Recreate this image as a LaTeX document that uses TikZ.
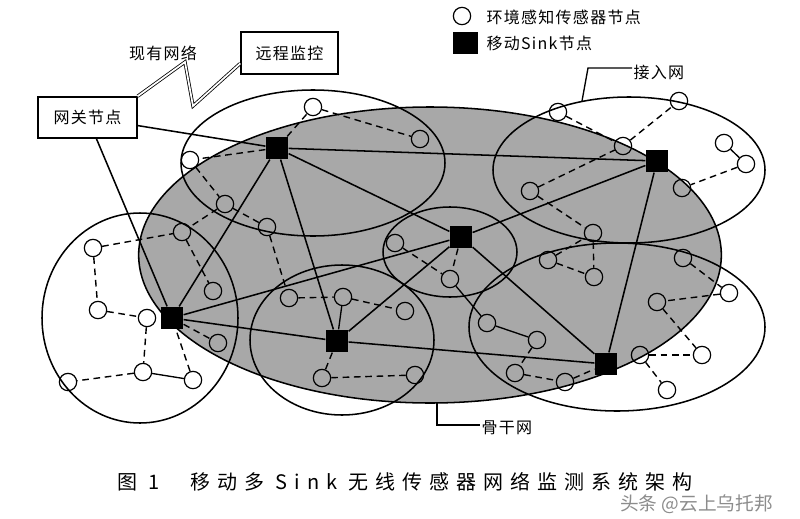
\documentclass[tikz,border=0pt]{standalone}
\usepackage{fontspec}
\newfontfamily\cjk{Noto Sans CJK SC}
\newfontfamily\cjkcap[LetterSpace=35]{Noto Sans CJK SC}
\newfontfamily\cjklab[LetterSpace=8]{Noto Sans CJK SC}
\usetikzlibrary{calc}
\begin{document}
\begin{tikzpicture}[x=0.75pt,y=-0.75pt,
  sink/.style={rectangle,fill=black,draw=none,minimum size=17pt,inner sep=0pt},
  sensor/.style={circle,draw,line width=0.9pt,minimum size=13pt,inner sep=0pt},
  bb/.style={line width=1.15pt},
  dl/.style={line width=1.05pt,dash pattern=on 5pt off 3.5pt},
  sl/.style={line width=1pt},
  cl/.style={line width=1.15pt},
  lab/.style={font=\cjklab\fontsize{12}{14}\selectfont,inner sep=1pt},
  boxlab/.style={lab,draw,line width=1.1pt},
  captionstyle/.style={font=\cjkcap\fontsize{15}{18}\selectfont,inner sep=0pt,anchor=west}
]
\useasboundingbox (0,0) rectangle (800,518);
\fill[white] (0,0) rectangle (800,518);

% backbone region
\filldraw[fill=black!34,line width=1.15pt] (430,255) ellipse [x radius=218.5pt, y radius=111pt];

% cluster ellipses
\draw[cl] (313,163) ellipse [x radius=99pt, y radius=54.75pt];
\draw[cl] (629,170) ellipse [x radius=102pt, y radius=54.75pt];
\draw[cl] (450,252) ellipse [x radius=50.25pt, y radius=33.75pt];
\draw[cl] (140,318) ellipse [x radius=73.5pt, y radius=78.75pt];
\draw[cl] (342,340) ellipse [x radius=69pt, y radius=56.25pt];
\draw[cl] (617,327) ellipse [x radius=111pt, y radius=63pt];

% sinks
\node[sink] (S1) at (277,148) {};
\node[sink] (S2) at (657,161) {};
\node[sink] (S3) at (461,237) {};
\node[sink] (S4) at (172,318) {};
\node[sink] (S5) at (337,341) {};
\node[sink] (S6) at (606,364) {};

% sensors
\node[sensor] (a1) at (313,107) {};
\node[sensor] (a2) at (420,139) {};
\node[sensor] (a3) at (190,160) {};
\node[sensor] (a4) at (225,204) {};
\node[sensor] (a5) at (267,227) {};
\node[sensor] (a6) at (182,232) {};
\node[sensor] (a7) at (395,243) {};
\node[sensor] (b1) at (558,112) {};
\node[sensor] (b2) at (679,101) {};
\node[sensor] (b3) at (623,146) {};
\node[sensor] (b4) at (724,143) {};
\node[sensor] (b5) at (746,164) {};
\node[sensor] (b6) at (682,188) {};
\node[sensor] (b7) at (530,191) {};
\node[sensor] (b8) at (593,233) {};
\node[sensor] (c1) at (93,248) {};
\node[sensor] (c2) at (213,291) {};
\node[sensor] (c3) at (98,310) {};
\node[sensor] (c4) at (147,318) {};
\node[sensor] (c5) at (218,343) {};
\node[sensor] (c6) at (143,372) {};
\node[sensor] (c7) at (193,380) {};
\node[sensor] (c8) at (68,382) {};
\node[sensor] (d1) at (289,298) {};
\node[sensor] (d2) at (343,297) {};
\node[sensor] (d3) at (405,311) {};
\node[sensor] (d4) at (322,378) {};
\node[sensor] (d5) at (415,375) {};
\node[sensor] (e1) at (450,279) {};
\node[sensor] (e2) at (487,323) {};
\node[sensor] (e3) at (537,340) {};
\node[sensor] (e4) at (515,373) {};
\node[sensor] (e5) at (565,382) {};
\node[sensor] (f1) at (548,260) {};
\node[sensor] (f2) at (594,277) {};
\node[sensor] (f3) at (683,258) {};
\node[sensor] (f4) at (729,293) {};
\node[sensor] (f5) at (657,302) {};
\node[sensor] (f6) at (640,355) {};
\node[sensor] (f7) at (702,355) {};
\node[sensor] (f8) at (667,390) {};

% backbone links
\draw[bb] (S1) -- (S2);
\draw[bb] (S1) -- (S3);
\draw[bb] (S1) -- (S4);
\draw[bb] (S1) -- (S5);
\draw[bb] (S2) -- (S3);
\draw[bb] (S2) -- (S6);
\draw[bb] (S3) -- (S4);
\draw[bb] (S3) -- (S5);
\draw[bb] (S3) -- (S6);
\draw[bb] (S4) -- (S5);
\draw[bb] (S5) -- (S6);

% dashed sensor links
\foreach \p/\q in {S1/a3,S1/a1,a1/a2,a3/a4,a4/a5,a4/a6,a5/d1,
  c1/a6,c1/c3,c3/c4,c4/c6,c6/c8,c7/S4,S4/c5,a6/c2,
  d1/d2,d2/d3,S5/d4,d4/d5,
  a7/e1,S3/e1,e3/e4,e4/e5,e5/S6,
  b1/b3,b3/b2,b7/b3,b7/b8,b5/b6,b8/f2,f1/f2,f1/b8,
  f3/f4,f4/f5,f5/f7,f6/f7,f6/f8}
  \draw[dl] (\p) -- (\q);
% solid sensor links
\foreach \p/\q in {c6/c7,d2/S5,e1/e2,e2/e3,b4/b5}
  \draw[sl] (\p) -- (\q);

% gateway, remote monitor, existing network
\node[boxlab,minimum width=74pt,minimum height=30.75pt] (gw) at (87.5,117.5) {网关节点};
\node[boxlab,minimum width=72.75pt,minimum height=31.5pt] (rm) at (289.5,53) {远程监控};
\node[lab] (net) at (163,53) {现有网络};
\draw[bb] (gw) -- (S1);
\draw[bb] (gw) -- (S4);
\coordinate (z1) at (185,62);
\coordinate (z2) at (193,106);
\draw[double,double distance=1.3pt,line width=0.6pt]
  (gw.north east) -- (z1) -- (z2) -- ($(rm.south west)!0.26!(rm.north west)$);

% legend
\node[sensor] (lgc) at (462,16) {};
\node[rectangle,fill=black,minimum width=18.75pt,minimum height=16.5pt,inner sep=0pt] (lgs) at (465.5,43) {};
\node[lab,anchor=west] (lgt1) at (485,17) {环境感知传感器节点};
\node[lab,anchor=west] (lgt2) at (485,43) {移动Sink节点};

% access network label
\node[lab,anchor=west] (jr) at (632,72) {接入网};
\coordinate (jre) at (582,101);
\coordinate (jrl) at (588,68);
\draw[sl] (jre) -- (jrl) -- (jrl -| jr.west);

% backbone label
\node[lab,anchor=west] (gg) at (480,428) {骨干网};
\coordinate (gb) at (437,403);
\coordinate (gbl) at (437,425);
\draw[sl] (gb) -- (gbl) -- (gbl -| gg.west);

% caption
\node[captionstyle] (fig) at (117,482) {图 1};
\node[captionstyle] (captxt) at (190,482) {移动多 Sink 无线传感器网络监测系统架构};
\node[font=\cjk\fontsize{14}{16}\selectfont,text=black!45,anchor=west,inner sep=0pt] (wm) at (620,504) {头条 @云上乌托邦};
\end{tikzpicture}
\end{document}
